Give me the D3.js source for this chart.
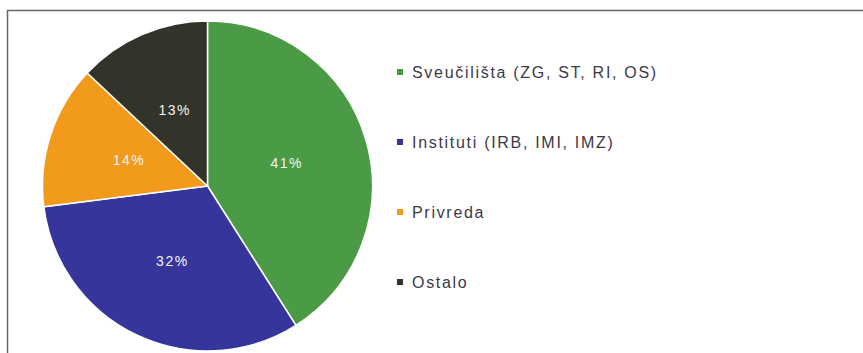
<!DOCTYPE html>
<html>
<head>
<meta charset="utf-8">
<script src="https://cdn.jsdelivr.net/npm/d3@7"></script>
<style>
  html, body { margin: 0; padding: 0; background: #fff; }
  svg { display: block; }
</style>
</head>
<body>
<svg id="chart" width="863" height="353"></svg>
<script>
// Share of participants by type of institution
const categories = ["Sveučilišta (ZG, ST, RI, OS)", "Instituti (IRB, IMI, IMZ)", "Privreda", "Ostalo"];
const shares = [41, 32, 14, 13];
const colors = ["#4a9a46", "#35359c", "#f29a1c", "#33332a"];

const svg = d3.select("#chart");
const W = 863, H = 353;

// Outer frame (runs off the right and bottom edges)
svg.append("rect")
  .attr("x", 7.5).attr("y", 10.5)
  .attr("width", W).attr("height", H)
  .attr("fill", "none")
  .attr("stroke", "#666").attr("stroke-width", 1.5);

const cx = 207.5, cy = 186, R = 165;

const pie = d3.pie().sort(null).value(d => d.v);
const arcs = pie(categories.map((c, i) => ({ c, v: shares[i], col: colors[i] })));

const arc = d3.arc().innerRadius(0).outerRadius(R);
const labelArc = d3.arc().innerRadius(R * 0.5).outerRadius(R * 0.5);

const g = svg.append("g").attr("transform", `translate(${cx},${cy})`);

g.selectAll("path.slice")
  .data(arcs)
  .join("path")
  .attr("class", "slice")
  .attr("d", arc)
  .attr("fill", d => d.data.col)
  .attr("stroke", "#fff")
  .attr("stroke-width", 1.5)
  .attr("stroke-linejoin", "round");

g.selectAll("text.pct")
  .data(arcs)
  .join("text")
  .attr("class", "pct")
  .attr("transform", d => `translate(${labelArc.centroid(d)})`)
  .attr("text-anchor", "middle")
  .attr("dy", "0.35em")
  .attr("fill", "#f4f4f4")
  .attr("font-family", "Liberation Sans, Arial, sans-serif")
  .attr("font-size", 14)
  .attr("letter-spacing", 1.5)
  .text(d => d.data.v + "%");

// Legend
const legendY = d3.scalePoint()
  .domain(categories)
  .range([72, 282]);

const legend = svg.append("g")
  .selectAll("g")
  .data(arcs)
  .join("g")
  .attr("transform", d => `translate(397,${legendY(d.data.c)})`);

legend.append("rect")
  .attr("x", 0).attr("y", -3)
  .attr("width", 6).attr("height", 6)
  .attr("fill", d => d.data.col);

legend.append("text")
  .attr("x", 15)
  .attr("dy", "0.36em")
  .attr("fill", "#3d3848")
  .attr("font-family", "Liberation Sans, Arial, sans-serif")
  .attr("font-size", 16)
  .attr("letter-spacing", 1.7)
  .text(d => d.data.c);
</script>
</body>
</html>
